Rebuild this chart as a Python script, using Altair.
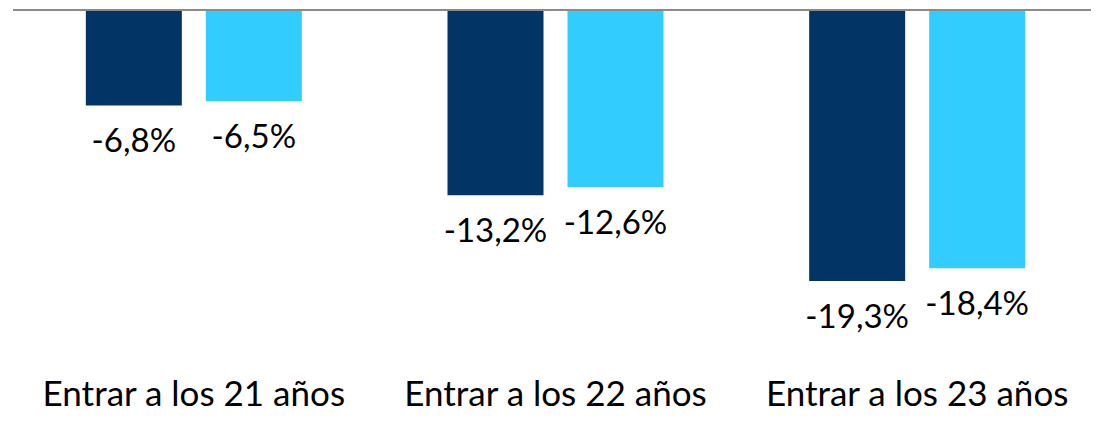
import altair as alt
import pandas as pd

categories = ["Entrar a los 21 años", "Entrar a los 22 años", "Entrar a los 23 años"]
series = ["Serie A", "Serie B"]
values_a = [-6.8, -13.2, -19.3]
values_b = [-6.5, -12.6, -18.4]
colors = ["#023466", "#33CCFF"]

rows = []
for c, a, b in zip(categories, values_a, values_b):
    for s, v in zip(series, (a, b)):
        rows.append({"cat": c, "serie": s, "valor": v,
                     "etiqueta": f"{v:.1f}%".replace(".", ",")})
df = pd.DataFrame(rows)

FONT = "Lato"

x_enc = alt.X("cat:N", sort=categories, title=None,
              scale=alt.Scale(paddingInner=0, paddingOuter=0, range=[0, 1085]),
              axis=alt.Axis(orient="bottom", domain=False, ticks=False, tickSize=0,
                            labelFont=FONT, labelFontSize=35, labelColor="#000000",
                            labelAngle=0, labelPadding=30, labelBaseline="alphabetic",
                            labelLimit=0, grid=False))
y_enc = alt.Y("valor:Q", title=None,
              scale=alt.Scale(domain=[-26, 0], nice=False, zero=True),
              axis=None)
xo = alt.XOffset("serie:N", sort=series,
                 scale=alt.Scale(paddingInner=0.2, paddingOuter=0.607))

base = alt.Chart(df).encode(x=x_enc, xOffset=xo)

bars = base.mark_bar(size=96).encode(
    y=y_enc,
    color=alt.Color("serie:N", sort=series,
                    scale=alt.Scale(domain=series, range=colors), legend=None),
)

labels = base.mark_text(font=FONT, fontSize=33, color="#000000",
                        baseline="alphabetic", align="center", dy=47).encode(
    y=y_enc,
    text="etiqueta:N",
)

zero = alt.Chart(pd.DataFrame({"z": [0]})).mark_rule(color="#8a8a8a", strokeWidth=2).encode(
    y=alt.Y("z:Q", scale=alt.Scale(domain=[-26, 0], nice=False), axis=None)
)

chart = alt.layer(bars, labels, zero).properties(
    width=1078, height=365,
    autosize=alt.AutoSizeParams(type="none"),
    padding={"left": 5, "top": 2, "right": 0, "bottom": 37},
).configure_view(stroke=None).configure_axis(grid=False)

chart.save("out.html", embed_options={"renderer": "svg", "actions": False})
